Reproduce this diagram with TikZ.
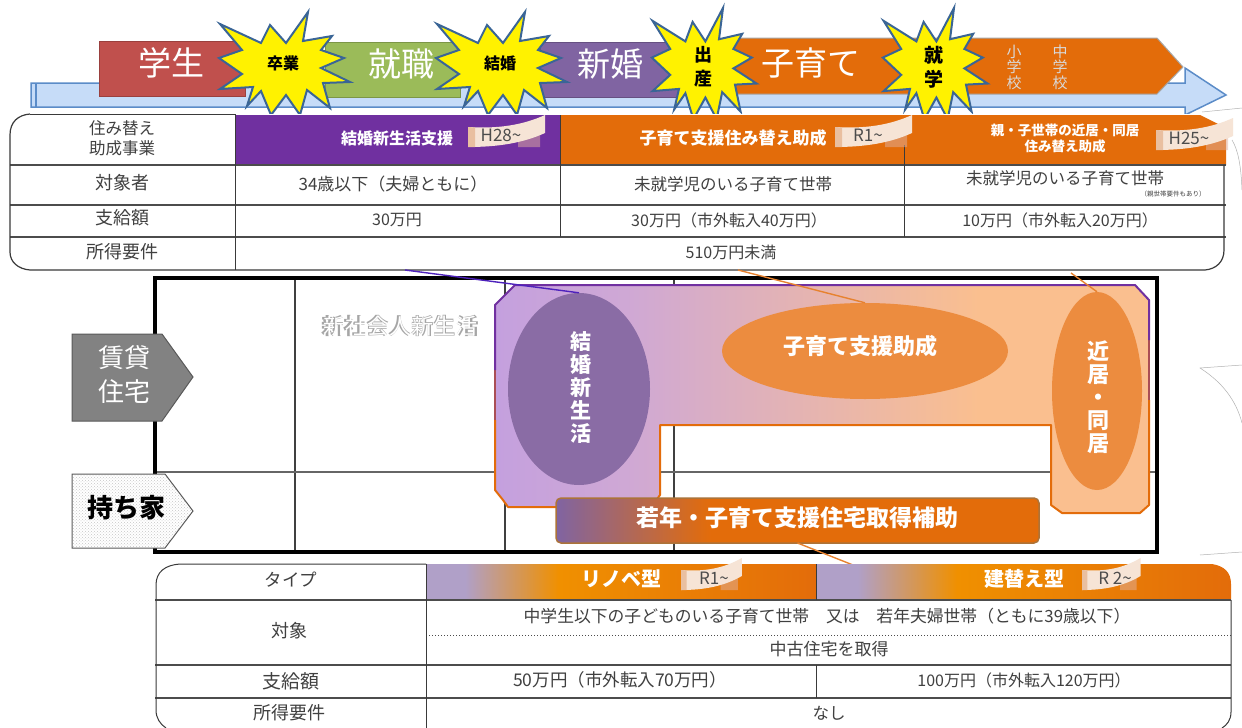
\documentclass[tikz,border=0pt]{standalone}
\usepackage{fontspec}
\setmainfont{Noto Sans CJK JP}
\usetikzlibrary{shapes.geometric,patterns}
\definecolor{barRed}{HTML}{C0504D}
\definecolor{barGreen}{HTML}{9BBB59}
\definecolor{barPurple}{HTML}{8064A2}
\definecolor{barOrange}{HTML}{E36C0A}
\definecolor{deepPurple}{HTML}{7030A0}
\definecolor{blobPurple}{HTML}{8A6CA5}
\definecolor{blobOrange}{HTML}{EC8C3F}
\definecolor{paper}{HTML}{F6E4D6}
\definecolor{paperEdge}{HTML}{E9BFA0}
\definecolor{paperBack}{HTML}{E0B0A0}
\definecolor{rule}{HTML}{3A3A3A}
\definecolor{cLav}{HTML}{C4A0DE}
\definecolor{cLavB}{HTML}{CFA8D5}
\definecolor{cPeach}{HTML}{FABF8F}
\definecolor{tLav}{HTML}{B0A0C8}
\definecolor{tAmb}{HTML}{F09000}
\definecolor{skyFill}{HTML}{C6DCF8}
\definecolor{skyEdge}{HTML}{5B8CC8}
\definecolor{burstEdge}{HTML}{3A6596}
\pgfdeclarehorizontalshading{roomband}{100bp}{color(0bp)=(cLav); color(25bp)=(cLav); color(35bp)=(cLavB); color(62bp)=(cPeach); color(75bp)=(cPeach); color(100bp)=(cPeach)}
\pgfdeclarehorizontalshading{typeband}{100bp}{color(0bp)=(tLav); color(30bp)=(tLav); color(42bp)=(tAmb); color(75bp)=(barOrange); color(100bp)=(barOrange)}
\pgfdeclarehorizontalshading{loanband}{100bp}{color(0bp)=(barPurple); color(25bp)=(barPurple); color(41bp)=(barOrange); color(100bp)=(barOrange)}
\tikzset{
  burst/.style={fill=yellow,draw=burstEdge,line width=2pt,line join=miter},
  cell/.style={text=black!75,inner sep=0pt},
  headtxt/.style={text=white,inner sep=0pt,font=\bfseries\fontsize{16}{18}\selectfont},
  stage/.style={text=white,inner sep=0pt,font=\fontsize{33}{36}\selectfont},
  eventtxt/.style={inner sep=0pt,font=\bfseries\fontsize{16}{21}\selectfont,align=center},
  rowline/.style={black!70,line width=1.5pt},
  blob/.style={ellipse,inner sep=0pt,draw=none},
  blobtxt/.style={text=white,inner sep=0pt,align=center},
  leader/.style={line width=1.4pt},
  scrap/.style={gray!60,line width=.5pt}
}
% star polygon around a point, #3 and #4 stretch it
\def\burstat(#1,#2)(#3,#4){\draw[burst,shift={(#1,#2)},xscale=#3,yscale=#4] (25,-51) -- (20,-22) -- (49,-27) -- (38,-13) -- (61,-5) -- (38,5) -- (67,19) -- (40,20) -- (47,45) -- (24,27) -- (17,52) -- (3,32) -- (-12,52) -- (-22,28) -- (-36,43) -- (-30,24) -- (-63,26) -- (-41,11) -- (-64,-5) -- (-41,-13) -- (-63,-39) -- (-22,-20) -- (-13,-38) -- (3,-20) -- cycle;}
% curled paper label
\def\papertag(#1,#2)(#3)(#4)(#5){
  \begin{scope}[shift={(#1,#2)},xscale=#3]
    \fill[paperBack,opacity=.5] (50,26) -- (72,18) -- (72,32) -- (50,32) -- cycle;
    \fill[paper] (0,12) .. controls (30,14) and (55,10) .. (77,0) -- (77,18) .. controls (55,28) and (30,32) .. (0,32) -- cycle;
    \fill[paperEdge] (0,12) -- (7,12.5) -- (7,32) -- (0,32) -- cycle;
  \end{scope}
  \node[inner sep=0pt,text=black!70,font=\fontsize{17}{19}\selectfont] (#4) at ({#1+33},{#2+20}) {#5};
}

\begin{document}
\begin{tikzpicture}[x=1pt,y=-1pt]
	\useasboundingbox (0,0) rectangle (1242,728);
	\fill[white] (0,0) rectangle (1242,728);

	%%%%% life stages %%%%%
	\draw[fill=skyFill,draw=skyEdge,line width=1.5pt] (31,83) -- (1185,83) -- (1185,68) -- (1226,95) -- (1185,115) -- (1185,107) -- (31,107) -- cycle;
	\draw[skyEdge,line width=1.5pt] (36,83) -- (36,107);
	\draw[fill=barRed,draw=barRed!80!black,line width=1pt] (99,41) rectangle (245,96);
	\draw[fill=barGreen,draw=barGreen!80!black,line width=1pt] (325,42) rectangle (460,97);
	\draw[fill=barPurple,draw=barPurple!80!black,line width=1pt] (540,42) rectangle (680,97);
	\draw[fill=barOrange,draw=gray!70,line width=1pt] (730,38) -- (1157,38) -- (1183,67) -- (1157,94) -- (730,94) -- cycle;
	\node[stage] (student) at (171,63) {学生};
	\node[stage] (career) at (401,64) {就職};
	\node[stage] (newlywed) at (610,64) {新婚};
	\node[stage] (childcare) at (811,63) {子育て};
	\node[align=center,inner sep=0pt,text=white!85!black,font=\fontsize{15}{15.5}\selectfont] (primary) at (1014,67) {小\\学\\校};
	\node[align=center,inner sep=0pt,text=white!85!black,font=\fontsize{15}{15.5}\selectfont] (junior) at (1060,67) {中\\学\\校};

	\burstat(283,63)(1,1)
	\burstat(500,63)(1,1)
	\burstat(703,63)(.8,1.08)
	\burstat(934,63)(.8,1.08)
	\node[eventtxt] (graduate) at (283,63) {卒業};
	\node[eventtxt] (marriage) at (500,63) {結婚};
	\node[eventtxt,font=\bfseries\fontsize{18}{24}\selectfont] (birth) at (703,67) {出\\産};
	\node[eventtxt,font=\bfseries\fontsize{19}{24}\selectfont] (school) at (934,67) {就\\学};

	% stray outlines at the right edge
	\draw[scrap] (1242,108) -- (1202,112);
	\draw[scrap] (1232,140) .. controls (1238,150) and (1241,165) .. (1242,190);
	\draw[scrap] (1242,365) -- (1200,368) .. controls (1222,382) and (1236,400) .. (1242,423);
	\draw[scrap] (1242,552) -- (1200,555);

	%%%%% upper table %%%%%
	\fill[white] (25,114) -- (1226,114) -- (1226,255) -- (1211,270) -- (25,270) -- (10,255) -- (10,129) -- cycle;
	\fill[deepPurple] (235,115) rectangle (560,165);
	\fill[barOrange] (560,115) -- (1200,115) -- (1226,128) -- (1226,165) -- (560,165) -- cycle;
	\draw[rowline] (10,165) -- (1226,165);
	\draw[rowline] (10,205) -- (1226,205);
	\draw[rowline] (10,237) -- (1226,237);
	\draw[rule,line width=1pt] (235,114) -- (235,270);
	\draw[rule,line width=1pt] (560,115) -- (560,237);
	\draw[rule,line width=1pt] (904,145) -- (904,237);
	\draw[rule,line width=1.2pt] (30,114) .. controls (18,115) and (10,122) .. (10,135) -- (10,252) .. controls (10,262) and (18,269) .. (30,270) -- (1205,270) .. controls (1216,269) and (1224,262) .. (1224,250) -- (1224,165);
	\draw[rule,line width=1pt] (30,114) -- (235,114);
	\node[cell,align=center,font=\fontsize{16.5}{20}\selectfont] (movehead) at (122,138) {住み替え\\助成事業};
	\node[cell,font=\fontsize{18}{20}\selectfont] (whohead) at (122,183) {対象者};
	\node[cell,font=\fontsize{18}{20}\selectfont] (payhead) at (122,218) {支給額};
	\node[cell,font=\fontsize{18}{20}\selectfont] (incomehead) at (122,252) {所得要件};
	\node[headtxt] (newlifehead) at (397,138) {結婚新生活支援};
	\node[headtxt,font=\bfseries\fontsize{17}{18}\selectfont] (rearhead) at (733,138) {子育て支援住み替え助成};
	\node[headtxt,align=center,font=\bfseries\fontsize{13.5}{16}\selectfont] (nearhead) at (1065,138) {親・子世帯の近居・同居\\住み替え助成};
	\papertag(468,115)(1)(tagA)(H28\textasciitilde)
	\papertag(835,115)(1)(tagB)(R1\textasciitilde)
	\papertag(1156,118)(1)(tagC)(H25\textasciitilde)
	\node[cell,font=\fontsize{17}{18}\selectfont] (whoA) at (393,184) {34歳以下（夫婦ともに）};
	\node[cell,font=\fontsize{16.5}{18}\selectfont] (whoB) at (733,184) {未就学児のいる子育て世帯};
	\node[cell,font=\fontsize{16.5}{18}\selectfont] (whoC) at (1065,178) {未就学児のいる子育て世帯};
	\node[cell,font=\fontsize{6.5}{7}\selectfont] (whoCnote) at (1173,194) {（親世帯要件もあり）};
	\node[cell,font=\fontsize{16}{18}\selectfont] (payA) at (397,220) {30万円};
	\node[cell,font=\fontsize{16}{18}\selectfont] (payB) at (729,220) {30万円（市外転入40万円）};
	\node[cell,font=\fontsize{16}{18}\selectfont] (payC) at (1060,220) {10万円（市外転入20万円）};
	\node[cell,font=\fontsize{16}{18}\selectfont] (incomeAll) at (731,252) {510万円未満};

	%%%%% housing chart %%%%%
	\draw[line width=1.5pt,black!75] (295,279) -- (295,552);
	\draw[line width=1.5pt,black!75] (505,279) -- (505,552);
	\draw[line width=1.5pt,black!75] (674,279) -- (674,552);
	\draw[line width=1.5pt,black!60] (155,472) -- (1157,472);
	\draw[line width=4pt] (155,278) rectangle (1157,552);
	\node[inner sep=0pt,text=gray!70,font=\bfseries\fontsize{22.5}{24}\selectfont] (freshmanback) at (400,326) {新社会人新生活};
	\node[inner sep=0pt,text=white,font=\fontsize{22}{24}\selectfont] (freshman) at (400,326) {新社会人新生活};

	\shade[shading=roomband] (515,285) -- (1135,285) -- (1149,300) -- (1149,505) -- (1140,513) -- (1062,513) -- (1051,505) -- (1051,425) -- (660,425) -- (660,495) -- (655,502) -- (556,507) -- (508,507) -- (503,500) -- (495,490) -- (495,305) -- (505,295) -- cycle;
	\draw[barOrange,line width=2pt,line join=round] (1149,400) -- (1149,505) -- (1140,513) -- (1062,513) -- (1051,505) -- (1051,425) -- (660,425) -- (660,495) -- (655,502);
	\draw[barOrange,line width=2pt,line join=round] (556,507) -- (508,507) -- (503,500) -- (495,490) -- (495,420);
	\draw[deepPurple!50!barOrange,line width=2pt] (495,420) -- (495,370);
	\draw[deepPurple!50!barOrange,line width=2pt] (1149,400) -- (1149,340);
	\draw[deepPurple,line width=2pt,line join=round] (495,370) -- (495,305) -- (505,295) -- (515,285) -- (1135,285) -- (1149,300) -- (1149,340);

	\node[blob,fill=blobPurple,minimum width=142pt,minimum height=192pt] (newlifeblob) at (579,389) {};
	\node[blob,fill=blobOrange,minimum width=286pt,minimum height=96pt] (rearblob) at (865,351) {};
	\node[blob,fill=blobOrange,minimum width=90pt,minimum height=198pt] (nearblob) at (1097,391) {};
	\node[blobtxt,font=\bfseries\fontsize{21}{23}\selectfont] (newlifetxt) at (581,388) {結\\婚\\新\\生\\活};
	\node[blobtxt,font=\bfseries\fontsize{22}{24}\selectfont] (reartxt) at (860,346) {子育て支援助成};
	\node[blobtxt,font=\bfseries\fontsize{22}{23}\selectfont] (neartxt) at (1098,397) {近\\居\\・\\同\\居};

	\node[shade,shading=loanband,draw=brown!90!black,line width=1.5pt,rounded corners=5pt,inner sep=0pt,outer sep=0pt,minimum width=483pt,minimum height=45pt] (loanbar) at (797.5,520.5) {};
	\node[blobtxt,font=\bfseries\fontsize{23}{25}\selectfont] (loantxt) at (797,518) {若年・子育て支援住宅取得補助};

	% side labels
	\draw[fill=gray!98,draw=black!65,line width=1pt] (72,334) -- (162,334) -- (193,377) -- (162,421) -- (72,421) -- cycle;
	\node[blobtxt,font=\fontsize{26}{34}\selectfont] (rental) at (124,375) {賃貸\\住宅};
	\draw[fill=white,draw=black!65,line width=1pt] (72,474) -- (165,474) -- (193,511) -- (165,548) -- (72,548) -- cycle;
	\fill[pattern=crosshatch dots,pattern color=gray!45] (73,475) -- (165,475) -- (192,511) -- (165,547) -- (73,547) -- cycle;
	\node[inner sep=0pt,font=\bfseries\fontsize{26}{28}\selectfont] (owned) at (126,508) {持ち家};

	% leader lines
	\coordinate (newlifefoot) at (405,270);
	\coordinate (rearfoot) at (738,270);
	\coordinate (nearfoot) at (1071,273);
	\coordinate (loanfoot) at (853,565);
	\draw[leader,deepPurple!70!blue] (newlifefoot) -- (newlifeblob.north);
	\draw[leader,barOrange!85!white] (rearfoot) -- (rearblob.north);
	\draw[leader,barOrange!85!white] (nearfoot) -- (nearblob.north);
	\draw[leader,barOrange!85!white] (loanbar.south) -- (loanfoot);

	%%%%% lower table %%%%%
	\shade[shading=typeband] (426,564) rectangle (816,600);
	\shade[shading=typeband] (816,564) -- (1212,564) .. controls (1224,566) and (1231,572) .. (1231,584) -- (1231,600) -- (816,600) -- cycle;
	\draw[rowline] (155,600) -- (1231,600);
	\draw[rowline] (155,665) -- (1231,665);
	\draw[rowline] (155,698) -- (1231,698);
	\draw[black!70,line width=1pt,dotted] (426,635) -- (1231,635);
	\draw[rule,line width=1pt] (426,564) -- (426,728);
	\draw[rule,line width=1pt] (816,564) -- (816,600);
	\draw[rule,line width=1pt] (816,665) -- (816,698);
	\draw[rule,line width=1pt] (426,564) -- (180,564) .. controls (165,565) and (156,572) .. (156,585) -- (156,710) .. controls (156,718) and (160,724) .. (166,728);
	\draw[rule,line width=1pt] (1231,600) -- (1231,712) .. controls (1231,720) and (1227,725) .. (1222,728);
	\node[cell,font=\fontsize{17.5}{18}\selectfont] (typehead) at (291,580) {タイプ};
	\node[cell,font=\fontsize{18}{18}\selectfont] (targethead) at (289,631) {対象};
	\node[cell,font=\fontsize{19}{20}\selectfont] (grant) at (291,681) {支給額};
	\node[cell,font=\fontsize{18}{18}\selectfont] (income) at (289,713) {所得要件};
	\node[headtxt,font=\bfseries\fontsize{20}{21}\selectfont] (renotype) at (621,579) {リノベ型};
	\node[headtxt,font=\bfseries\fontsize{20}{21}\selectfont] (rebuildtype) at (1024,579) {建替え型};
	\papertag(681,558)(.79)(tagD)(R1\textasciitilde)
	\papertag(1082,558)(.76)(tagE)(R 2\textasciitilde)
	\node[cell,font=\fontsize{16.8}{18}\selectfont] (targettxt) at (827,616) {中学生以下の子どものいる子育て世帯\quad 又は\quad 若年夫婦世帯（ともに39歳以下）};
	\node[cell,font=\fontsize{17}{18}\selectfont] (usedhome) at (829,649) {中古住宅を取得};
	\node[cell,font=\fontsize{17.5}{18}\selectfont] (grantA) at (620,680) {50万円（市外転入70万円）};
	\node[cell,font=\fontsize{16}{18}\selectfont] (grantB) at (1024,680) {100万円（市外転入120万円）};
	\node[cell,font=\fontsize{16.5}{18}\selectfont] (incomeNone) at (829,713) {なし};
\end{tikzpicture}
\end{document}
